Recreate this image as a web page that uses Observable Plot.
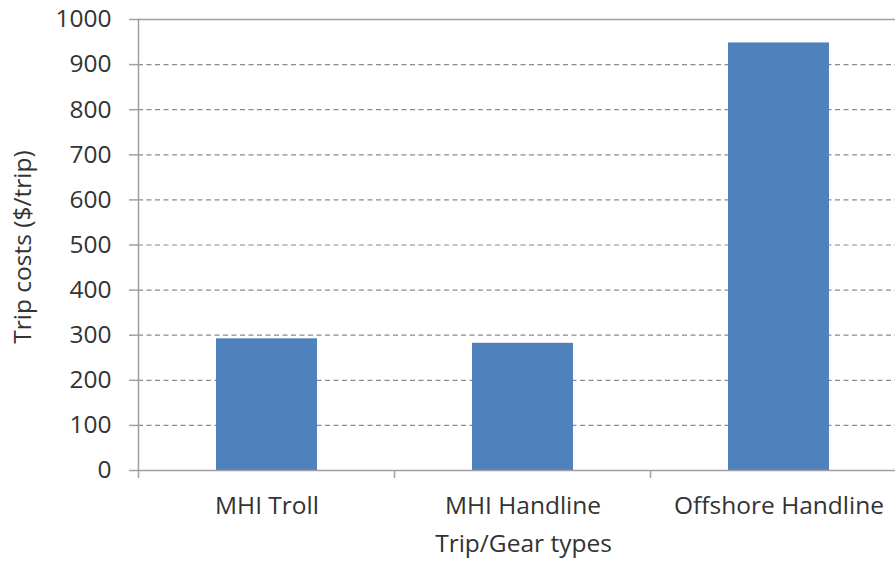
<!DOCTYPE html>
<html>
<head>
<meta charset="utf-8">
<script src="https://cdn.jsdelivr.net/npm/d3@7"></script>
<script src="https://cdn.jsdelivr.net/npm/@observablehq/plot@0.6"></script>
<style>
  html, body { margin: 0; padding: 0; background: #fff; overflow: hidden; }
  #chart { width: 895px; height: 561px; overflow: hidden; }
  #chart svg { max-width: none !important; }
</style>
</head>
<body>
<div id="chart"></div>
<script>
const categories = ["MHI Troll", "MHI Handline", "Offshore Handline"];
const costs = [292, 282, 948];
const yTicks = [0, 100, 200, 300, 400, 500, 600, 700, 800, 900, 1000];
const yTitle = "Trip costs ($/trip)";
const xTitle = "Trip/Gear types";

const data = categories.map((c, i) => ({category: c, cost: costs[i]}));
const gridTicks = yTicks.filter(t => t > 0 && t < 1000);

const axisColor = "#a0a0a0";
const textColor = "#333333";
const font = "'Open Sans', sans-serif";
const fs = 24.5;

function boundaryTicks(index, scales, values, dimensions) {
  const x = scales.x;
  const step = x(categories[1]) - x(categories[0]);
  const bw = typeof x.bandwidth === "function" ? x.bandwidth() : x.bandwidth;
  const gap = (step - bw) / 2;
  const y0 = scales.y(0);
  const g = d3.create("svg:g");
  const bounds = categories.map(c => x(c) - gap);
  bounds.push(x(categories[categories.length - 1]) + bw + gap);
  for (const b of bounds) {
    g.append("line")
      .attr("x1", b).attr("x2", b)
      .attr("y1", y0).attr("y2", y0 + 8)
      .attr("stroke", axisColor).attr("stroke-width", 1.5);
  }
  return g.node();
}

const chart = Plot.plot({
  width: 908,
  height: 561,
  marginLeft: 138,
  marginRight: 0,
  marginTop: 19,
  marginBottom: 91,
  style: {fontFamily: font, fontSize: fs + "px", color: textColor, background: "#fff", maxWidth: "none"},
  x: {domain: categories, paddingInner: 0.605, paddingOuter: 0.3025, label: null},
  y: {domain: [0, 1000], label: null},
  marks: [
    Plot.gridY(gridTicks, {stroke: "#8c8c8c", strokeOpacity: 1, strokeDasharray: "5,3.5", strokeWidth: 1.2}),
    Plot.ruleY([1000], {stroke: axisColor, strokeWidth: 1.5}),
    Plot.barY(data, {x: "category", y: "cost", fill: "#4f81bd", insetLeft: 0, insetRight: 0}),
    Plot.ruleY([0], {stroke: axisColor, strokeWidth: 1.5}),
    Plot.frame({anchor: "left", stroke: axisColor, strokeWidth: 1.5}),
    Plot.axisY({ticks: yTicks, tickSize: 9, tickPadding: 18, stroke: axisColor, strokeWidth: 1.5, fill: textColor, label: null, tickFormat: d => String(d)}),
    Plot.axisX({tickSize: 0, tickPadding: 26.5, fill: textColor, label: null}),
    boundaryTicks,
    Plot.text([yTitle], {frameAnchor: "left", dx: -108, dy: 2, rotate: -90, lineAnchor: "bottom", textAnchor: "middle", fill: textColor, fontSize: fs}),
    Plot.text([xTitle], {frameAnchor: "bottom", dy: 81, lineAnchor: "bottom", textAnchor: "middle", fill: textColor, fontSize: fs})
  ]
});
document.getElementById("chart").appendChild(chart);
</script>
</body>
</html>
